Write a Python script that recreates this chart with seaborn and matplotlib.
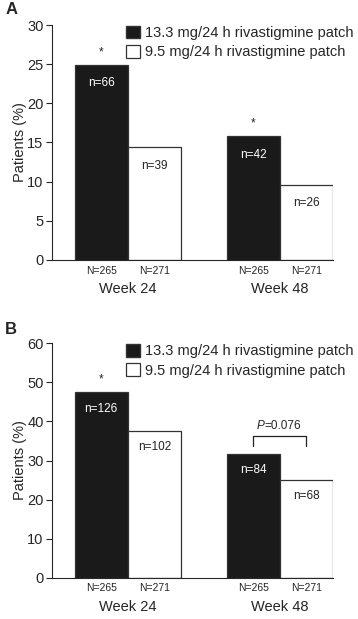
import pandas as pd
import seaborn as sns
import matplotlib.pyplot as plt
from matplotlib.patches import Patch

# --- data -------------------------------------------------------------------
weeks = ["Week 24", "Week 48"]
doses = ["13.3 mg/24 h rivastigmine patch", "9.5 mg/24 h rivastigmine patch"]
big_N = ["N=265", "N=271"]

pct_a_high = [24.9, 15.8]
pct_a_low = [14.4, 9.6]
n_a_high = ["n=66", "n=42"]
n_a_low = ["n=39", "n=26"]

pct_b_high = [47.5, 31.7]
pct_b_low = [37.6, 25.1]
n_b_high = ["n=126", "n=84"]
n_b_low = ["n=102", "n=68"]

sns.set_style("ticks")
plt.rcParams["font.family"] = ["Liberation Sans", "DejaVu Sans"]

fig = plt.figure(figsize=(3.58, 6.19), dpi=100)
ax_a = fig.add_axes([0.145, 0.580, 0.785, 0.3796])
ax_b = fig.add_axes([0.145, 0.0667, 0.785, 0.3787])


def panel(ax, high, low, n_high, n_low, ymax, step, stars, n_off):
    df = pd.DataFrame({
        "week": weeks * 2,
        "dose": [doses[0]] * 2 + [doses[1]] * 2,
        "pct": high + low,
    })
    sns.barplot(data=df, x="week", y="pct", hue="dose", hue_order=doses,
                palette=["#1a1a1a", "white"], edgecolor="#333333", linewidth=0.9,
                width=0.7, gap=0, legend=False, ax=ax)
    ax.set_xlim(-0.5, 1.35)
    ax.set_ylim(0, ymax)
    ax.set_yticks(range(0, ymax + 1, step))
    ax.tick_params(axis="y", labelsize=10.5, length=4, width=0.8, direction="out", pad=2)
    ax.tick_params(axis="x", length=0, labelsize=10.5, pad=16)
    ax.set_xlabel("")
    ax.set_ylabel("Patients (%)", fontsize=10.5, labelpad=0)
    for s in ["top", "right"]:
        ax.spines[s].set_visible(False)
    for s in ["left", "bottom"]:
        ax.spines[s].set_linewidth(0.8)

    labels = [n_high, n_low]
    for k, cont in enumerate(ax.containers):
        for i, bar in enumerate(cont):
            cx = bar.get_x() + bar.get_width() / 2
            h = bar.get_height()
            ax.annotate(labels[k][i], (cx, h), xytext=(0, -n_off), textcoords="offset points",
                        ha="center", va="top", fontsize=8.5,
                        color="white" if k == 0 else "#222222")
            ax.annotate(big_N[k], (cx, 0), xytext=(0, -4), textcoords="offset points",
                        ha="center", va="top", fontsize=7.5, color="#222222",
                        annotation_clip=False)
            if k == 0 and stars[i]:
                ax.annotate("*", (cx, h), xytext=(0, 5), textcoords="offset points",
                            ha="center", va="bottom", fontsize=8.5)

    ax.legend(handles=[Patch(facecolor="#1a1a1a", edgecolor="#333333"),
                       Patch(facecolor="white", edgecolor="#333333", linewidth=0.9)],
              labels=doses, loc="upper left", bbox_to_anchor=(0.265, 0.997),
              frameon=False, fontsize=10.5, handlelength=0.95, handleheight=0.95,
              handletextpad=0.3, labelspacing=0.35, borderaxespad=0, borderpad=0)
    return ax


panel(ax_a, pct_a_high, pct_a_low, n_a_high, n_a_low, 30, 5, [True, True], 9)
panel(ax_b, pct_b_high, pct_b_low, n_b_high, n_b_low, 60, 10, [True, False], 7.5)

fig.text(0.015, 0.997, "A", fontsize=12, fontweight="bold", ha="left", va="top")
fig.text(0.015, 0.480, "B", fontsize=12, fontweight="bold", ha="left", va="top")

# P-value bracket, week 48, panel B
bars48 = [ax_b.containers[0][1], ax_b.containers[1][1]]
x0 = bars48[0].get_x() + bars48[0].get_width() / 2
x1 = bars48[1].get_x() + bars48[1].get_width() / 2
ax_b.plot([x0, x0, x1, x1], [33.8, 36.3, 36.3, 33.8], color="#222222", lw=0.9)
ax_b.text((x0 + x1) / 2 + 0.02, 37.3, "=0.076", ha="center", va="bottom", fontsize=8.5)
ax_b.annotate("P", ((x0 + x1) / 2 + 0.02, 37.3), xytext=(-16, 0), textcoords="offset points",
              ha="center", va="bottom", fontsize=8.5, style="italic")

fig.savefig("out.png", dpi=100)
